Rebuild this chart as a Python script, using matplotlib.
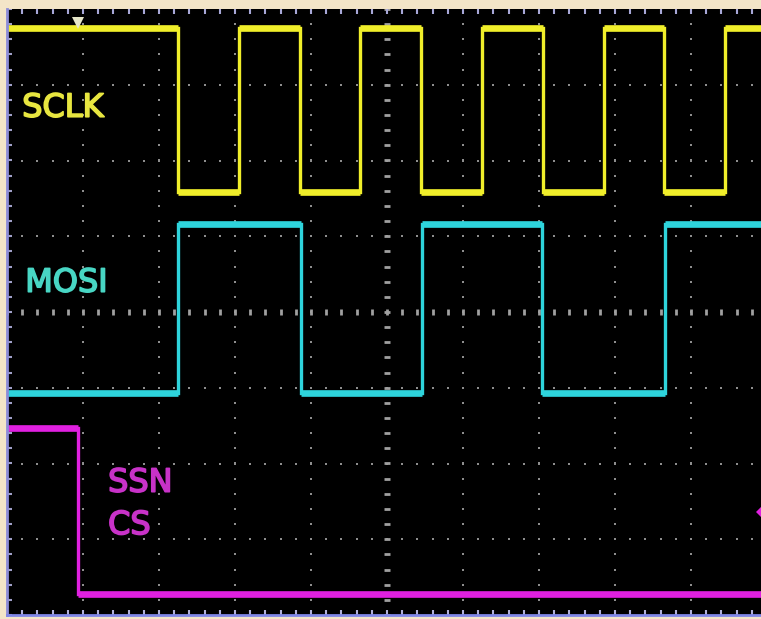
import numpy as np
import matplotlib.pyplot as plt
import matplotlib.patheffects as pe

# Flancos de cada canal (em divisões horizontais) e níveis alto/baixo (em divisões verticais)
sclk_bordas = [2.25, 3.05, 3.85, 4.65, 5.45, 6.25, 7.05, 7.85, 8.65, 9.45]
sclk_inicio = 1
sclk_niveis = (1.58, 3.75)

mosi_bordas = [2.25, 3.87, 5.46, 7.04, 8.66]
mosi_inicio = 0
mosi_niveis = (-1.07, 1.16)

ssn_bordas = [0.93]
ssn_inicio = 1
ssn_niveis = (-3.72, -1.53)

rotulos = ['SCLK', 'MOSI', 'SSN', 'CS']
rotulos_x = [0.2, 0.24, 1.33, 1.33]
rotulos_y = [2.69, 0.38, -2.26, -2.82]

cor_sclk = '#f0ee2a'
cor_mosi = '#2ed4dc'
cor_ssn = '#e020e0'
cor_rot = ['#e8e640', '#48d6c4', '#c832c8', '#c832c8']


def onda(bordas, inicio, niveis):
    x = [0.0]
    estado = inicio
    y = [niveis[estado]]
    for b in bordas:
        x.append(b)
        y.append(niveis[estado])
        estado = 1 - estado
        x.append(b)
        y.append(niveis[estado])
    x.append(10.0)
    y.append(niveis[estado])
    return np.array(x), np.array(y)


fig = plt.figure(figsize=(7.61, 6.19), dpi=100, facecolor='#f3e5c8')
ax = fig.add_axes([7 / 761, 4 / 619, 760 / 761, 606 / 619])
ax.set_facecolor('black')
ax.set_xlim(0, 10)
ax.set_ylim(-4, 4)
ax.set_xticks([])
ax.set_yticks([])
for lado in ['top', 'right']:
    ax.spines[lado].set_visible(False)
ax.spines['left'].set_color('#8c8cd8')
ax.spines['left'].set_linewidth(2)
ax.spines['bottom'].set_color('#7f86e6')
ax.spines['bottom'].set_linewidth(2)

# grade pontilhada
ys = np.arange(-4, 4.01, 0.2)
xs = np.arange(0, 10.01, 0.2)
for gx in range(1, 10):
    if gx == 5:
        continue
    ax.plot([gx] * len(ys), ys, ls='none', marker='s', ms=2.0, mew=0, color='#8e8e8e')
for gy in range(-3, 4):
    if gy == 0:
        continue
    ax.plot(xs, [gy] * len(xs), ls='none', marker='s', ms=2.0, mew=0, color='#8e8e8e')

# eixos centrais com marcas
ax.plot([5] * len(ys), ys, ls='none', marker='_', ms=5, mew=2, color='#a0a0a0')
ax.plot(xs, [0] * len(xs), ls='none', marker='|', ms=5, mew=2, color='#a0a0a0')

# marcas nas bordas
ax.plot(xs, [3.97] * len(xs), ls='none', marker='|', ms=5, mew=1.5, color='#a8a8d8')
ax.plot(xs, [-3.97] * len(xs), ls='none', marker='|', ms=5, mew=1.5, color='#b0b0d8')
ax.plot([0.03] * len(ys), ys, ls='none', marker='_', ms=5, mew=1.5, color='#a0a0c8')

# sinais
for bordas, inicio, niveis, cor in [(sclk_bordas, sclk_inicio, sclk_niveis, cor_sclk),
                                    (mosi_bordas, mosi_inicio, mosi_niveis, cor_mosi),
                                    (ssn_bordas, ssn_inicio, ssn_niveis, cor_ssn)]:
    x, y = onda(bordas, inicio, niveis)
    ax.plot(x, y, color=cor, lw=2.4, solid_joinstyle='miter')
    ax.hlines(y[::2], x[::2], x[1::2], color=cor, lw=4.8)

# rótulos dos canais
for txt, tx, ty, c in zip(rotulos, rotulos_x, rotulos_y, cor_rot):
    ax.text(tx, ty, txt, color=c, fontsize=23, family='DejaVu Sans', va='center', ha='left',
            path_effects=[pe.withStroke(linewidth=1.2, foreground=c)])

# marcador de disparo e de nível
ax.plot(0.93, 3.82, marker='v', ms=9, color='#e6e6c8', mew=0)
ax.plot(9.97, -2.64, marker='D', ms=9, color=cor_ssn, mew=0)

fig.savefig('out.png', dpi=100, facecolor=fig.get_facecolor())
